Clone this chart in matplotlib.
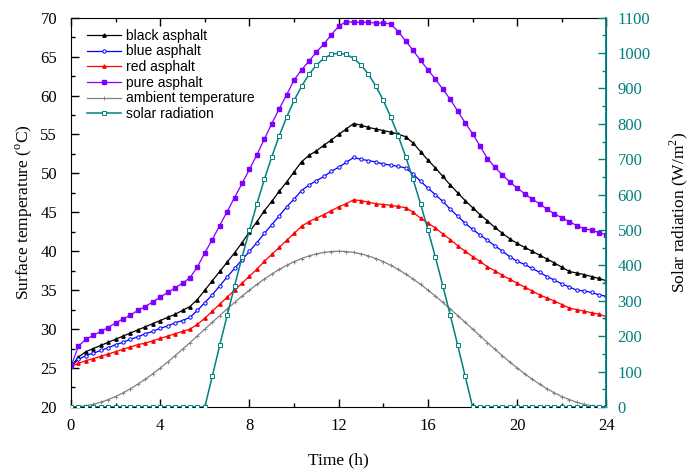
import matplotlib
matplotlib.use('agg')

import matplotlib.pyplot as plt
import matplotlib.ticker as ticker
import numpy as np

plt.rcParams['font.family'] = 'Liberation Serif'
plt.rcParams['mathtext.fontset'] = 'custom'
plt.rcParams['mathtext.rm'] = 'Liberation Serif'

# time axis: one reading every 20 minutes
hours = np.linspace(0, 24, 73)

black = [25.2, 26.4, 27.1, 27.5, 27.9, 28.3, 28.7, 29.1, 29.5, 29.9,
         30.3, 30.7, 31.1, 31.5, 31.9, 32.4, 32.9, 33.8, 35.0, 36.2,
         37.4, 38.6, 39.8, 41.1, 42.5, 43.8, 45.2, 46.4, 47.7, 48.9,
         50.2, 51.5, 52.3, 52.9, 53.6, 54.3, 55.0, 55.7, 56.4, 56.2,
         55.9, 55.7, 55.5, 55.3, 55.05, 54.7, 53.9, 52.8, 51.7, 50.7,
         49.6, 48.5, 47.5, 46.5, 45.6, 44.7, 43.9, 43.05, 42.3, 41.6,
         41.0, 40.5, 40.0, 39.5, 39.0, 38.5, 37.95, 37.4, 37.2, 37.0,
         36.75, 36.5, 36.2]

blue = [25.2, 26.1, 26.6, 26.9, 27.25, 27.6, 28.0, 28.3, 28.7, 29.0,
        29.4, 29.7, 30.1, 30.4, 30.8, 31.1, 31.5, 32.4, 33.4, 34.4,
        35.55, 36.7, 37.8, 38.9, 40.0, 41.1, 42.3, 43.4, 44.55, 45.7,
        46.7, 47.8, 48.5, 49.05, 49.6, 50.25, 50.8, 51.4, 52.05, 51.8,
        51.65, 51.45, 51.2, 51.05, 50.9, 50.7, 49.9, 49.0, 48.1, 47.25,
        46.4, 45.4, 44.5, 43.6, 42.8, 42.1, 41.4, 40.7, 40.0, 39.3,
        38.7, 38.3, 37.8, 37.3, 36.75, 36.3, 35.8, 35.4, 35.0, 34.9,
        34.7, 34.4, 34.2]

red = [25.2, 25.6, 25.95, 26.2, 26.5, 26.8, 27.1, 27.4, 27.7, 28.0,
       28.2, 28.5, 28.8, 29.1, 29.4, 29.7, 30.0, 30.6, 31.4, 32.3,
       33.2, 34.1, 35.0, 35.9, 36.8, 37.7, 38.7, 39.6, 40.5, 41.4,
       42.3, 43.2, 43.8, 44.25, 44.7, 45.2, 45.7, 46.1, 46.6, 46.5,
       46.3, 46.1, 46.0, 45.9, 45.75, 45.6, 45.0, 44.25, 43.6, 43.0,
       42.2, 41.5, 40.7, 40.0, 39.3, 38.7, 38.0, 37.5, 36.9, 36.4,
       35.9, 35.4, 34.9, 34.4, 34.0, 33.6, 33.15, 32.7, 32.5, 32.3,
       32.1, 31.9, 31.6]

pure = [25.2, 27.8, 28.7, 29.2, 29.7, 30.2, 30.8, 31.3, 31.8, 32.4,
        32.9, 33.5, 34.1, 34.7, 35.3, 35.9, 36.6, 38.0, 39.8, 41.5,
        43.3, 45.1, 46.9, 48.7, 50.5, 52.4, 54.4, 56.4, 58.3, 60.1,
        62.0, 63.3, 64.4, 65.6, 66.6, 67.8, 68.9, 69.5, 69.4, 69.4,
        69.4, 69.3, 69.3, 69.2, 68.2, 67.0, 65.8, 64.5, 63.3, 62.1,
        60.8, 59.5, 58.0, 56.5, 55.1, 53.5, 51.9, 50.8, 49.8, 48.9,
        48.1, 47.4, 46.7, 46.1, 45.4, 44.8, 44.3, 43.8, 43.3, 42.9,
        42.7, 42.4, 42.1]

ambient = [20.0, 20.04, 20.15, 20.34, 20.6, 20.94, 21.34, 21.81, 22.34, 22.93,
           23.57, 24.26, 25.0, 25.77, 26.58, 27.41, 28.26, 29.13, 30.0, 30.87,
           31.74, 32.59, 33.42, 34.23, 35.0, 35.74, 36.43, 37.07, 37.66, 38.19,
           38.66, 39.06, 39.4, 39.66, 39.85, 39.96, 40.0, 39.96, 39.85, 39.66,
           39.4, 39.06, 38.66, 38.19, 37.66, 37.07, 36.43, 35.74, 35.0, 34.23,
           33.42, 32.59, 31.74, 30.87, 30.0, 29.13, 28.26, 27.41, 26.58, 25.77,
           25.0, 24.26, 23.57, 22.93, 22.34, 21.81, 21.34, 20.94, 20.6, 20.34,
           20.15, 20.04, 20.0]

solar = [0] * 18 + [0, 87, 174, 259, 342, 423, 500, 574, 643, 707, 766, 819,
                    866, 906, 940, 966, 985, 996, 1000, 996, 985, 966, 940, 906,
                    866, 819, 766, 707, 643, 574, 500, 423, 342, 259, 174, 87, 0] + [0] * 18

teal = '#008080'
purple = '#8000ff'

fig = plt.figure(figsize=(6.91, 4.71), dpi=100)
ax = fig.add_axes([0.1027, 0.136, 0.775, 0.8265])
ax2 = ax.twinx()

lw = 0.9
l1, = ax.plot(hours, black, color='black', lw=lw, marker='^', ms=2.4, label='black asphalt')
l2, = ax.plot(hours, blue, color='#0000ff', lw=lw, marker='o', ms=2.4, mfc='white', mew=0.7, label='blue asphalt')
l3, = ax.plot(hours, red, color='#ff0000', lw=lw, marker='^', ms=2.4, label='red asphalt')
l4, = ax.plot(hours, pure, color=purple, lw=lw, marker='s', ms=2.2, label='pure asphalt')
l5, = ax.plot(hours, ambient, color='#808080', lw=lw, marker='+', ms=2.5, mew=0.6, label='ambient temperature')
l6, = ax2.plot(hours, solar, color=teal, lw=1.1, marker='s', ms=2.4, mfc='white', mew=0.7, label='solar radiation')

ax.set_xlim(0, 24)
ax.set_ylim(20, 70)
ax2.set_ylim(0, 1100)

ax.xaxis.set_major_locator(ticker.MultipleLocator(4))
ax.xaxis.set_minor_locator(ticker.MultipleLocator(2))
ax.yaxis.set_major_locator(ticker.MultipleLocator(5))
ax.yaxis.set_minor_locator(ticker.MultipleLocator(2.5))
ax2.yaxis.set_major_locator(ticker.MultipleLocator(100))
ax2.yaxis.set_minor_locator(ticker.MultipleLocator(50))

ax.tick_params(which='both', direction='in', top=True, right=False, labelsize=12, width=1)
ax.tick_params(which='major', length=6)
ax.tick_params(which='minor', length=3)
ax.tick_params(axis='x', which='both', pad=8)
ax.tick_params(axis='y', which='both', pad=10)
ax2.tick_params(axis='y', which='both', direction='in', colors=teal, labelsize=12, width=1, pad=8)
ax2.tick_params(axis='y', which='major', length=6)
ax2.tick_params(axis='y', which='minor', length=3)
ax2.spines['right'].set_color(teal)
ax2.spines['right'].set_linewidth(1.3)
for s in ['left', 'top', 'bottom']:
    ax2.spines[s].set_visible(False)

ax.set_xlabel('Time (h)', fontsize=12.5, labelpad=13)
ax.set_ylabel('Surface temperature ($^{\\rm o}$C)', fontsize=12.5, labelpad=4)
ax2.set_ylabel('Solar radiation (W/m$^{2}$)', fontsize=12.5, labelpad=12)

ax2.legend(handles=[l1, l2, l3, l4, l5, l6], loc='upper left', frameon=False,
           prop={'family': 'Liberation Sans', 'size': 10}, handlelength=2.4,
           labelspacing=0.12, handletextpad=0.4, borderaxespad=0.4,
           bbox_to_anchor=(0.01, 1.0))

plt.savefig('out.png', dpi=100)
